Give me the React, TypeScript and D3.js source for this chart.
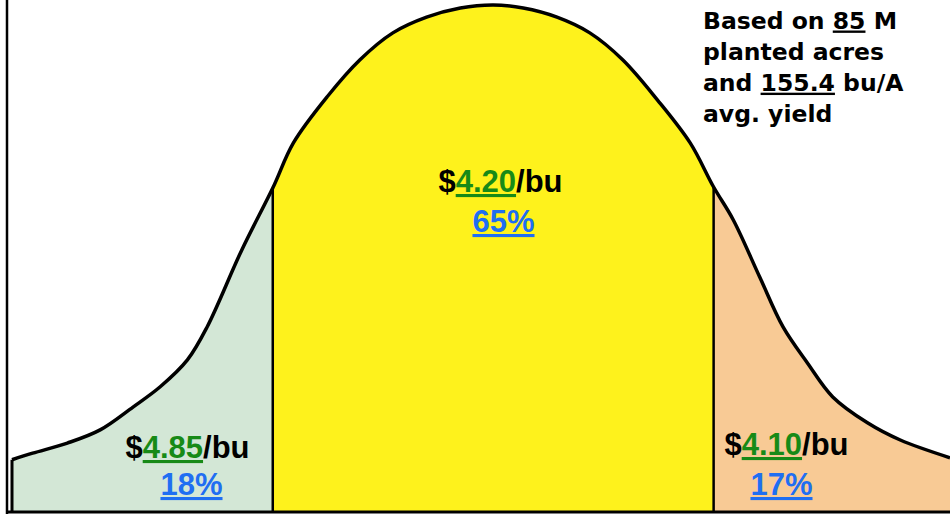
import React from 'react';
import * as d3 from 'd3';

// Bell curve: position along the axis (0-100) and relative height (0-100)
const curveT = [0, 2.2, 5.9, 9.4, 12.9, 15.8, 18.7, 20.8, 24.5, 27.8, 30.0, 33.6, 37.1, 40.6, 44.2, 47.8, 51.3, 54.5, 58.1, 61.6, 65.1, 68.8, 72.3, 74.8, 76.9, 79.7, 82.2, 84.8, 87.5, 91.2, 94.7, 100];
const curveDensity = [10.3, 11.6, 13.6, 16.2, 20.7, 24.7, 30.0, 36.5, 51.7, 63.9, 72.8, 81.9, 89.2, 94.5, 97.6, 99.4, 100, 99.4, 97.6, 94.5, 89.2, 81.3, 72.8, 64.1, 57.6, 46.4, 36.5, 29.4, 22.7, 17.6, 14.2, 10.7];

// Region boundaries (positions on the same axis)
const splitT = [27.8, 74.8];
const regionFills = ['#d3e7d6', '#fef21c', '#f8ca95'];
const prices = ['4.85', '4.20', '4.10'];
const shares = ['18%', '65%', '17%'];
const noteLines: { text: string; u?: boolean }[][] = [
  [{ text: 'Based on ' }, { text: '85', u: true }, { text: ' M' }],
  [{ text: 'planted acres' }],
  [{ text: 'and ' }, { text: '155.4', u: true }, { text: ' bu/A' }],
  [{ text: 'avg. yield' }],
];

// layout for labels (pixels)
const labelPos = [
  { px: 187.5, py: 458, sx: 191.5, sy: 495 },
  { px: 500.5, py: 192, sx: 503.5, sy: 232 },
  { px: 786.5, py: 455, sx: 781.5, sy: 495 },
];

const W = 950;
const H = 514;
const GREEN = '#178a17';
const BLUE = '#1f6ef2';

export default function App() {
  const x = d3.scaleLinear().domain([0, 100]).range([12, 950]);
  const y = d3.scaleLinear().domain([0, 100]).range([512, 5]);
  const pts: [number, number][] = curveT.map((t, i) => [t, curveDensity[i]]);

  const interp = d3.curveCatmullRom.alpha(0.5);
  const area = d3
    .area<[number, number]>()
    .x((d) => x(d[0]))
    .y0(y(0))
    .y1((d) => y(d[1]))
    .curve(interp);
  const line = d3
    .line<[number, number]>()
    .x((d) => x(d[0]))
    .y((d) => y(d[1]))
    .curve(interp);

  const bounds = [0, ...splitT, 100];
  const areaPath = area(pts) || '';
  const linePath = line(pts) || '';

  const densityAt = (t: number) => curveDensity[curveT.indexOf(t)];

  const font = "'Liberation Sans', Arial, sans-serif";

  return (
    <svg
      width={W}
      height={H}
      style={{ position: 'absolute', left: 0, top: 0, background: '#ffffff' }}
    >
      <defs>
        {regionFills.map((_, i) => (
          <clipPath id={`clip${i}`} key={i}>
            <rect
              x={x(bounds[i])}
              y={0}
              width={x(bounds[i + 1]) - x(bounds[i])}
              height={H}
            />
          </clipPath>
        ))}
      </defs>
      <rect x={0} y={0} width={W} height={H} fill="#ffffff" />
      {regionFills.map((c, i) => (
        <path key={i} d={areaPath} fill={c} clipPath={`url(#clip${i})`} />
      ))}
      {splitT.map((t, i) => (
        <line
          key={i}
          x1={x(t)}
          x2={x(t)}
          y1={y(densityAt(t))}
          y2={y(0)}
          stroke="#000"
          strokeWidth={2.5}
        />
      ))}
      <path d={linePath} fill="none" stroke="#000" strokeWidth={3.5} strokeLinejoin="round" />
      <line
        x1={x(0)}
        x2={x(0)}
        y1={y(curveDensity[0])}
        y2={y(0)}
        stroke="#000"
        strokeWidth={3}
      />
      <line x1={7} x2={7} y1={0} y2={514} stroke="#000" strokeWidth={2.5} />
      <line x1={6} x2={950} y1={512} y2={512} stroke="#000" strokeWidth={3} />

      {labelPos.map((p, i) => (
        <g key={i} fontFamily={font} fontWeight="bold" fontSize={31}>
          <text x={p.px} y={p.py} textAnchor="middle" fill="#000">
            $
            <tspan fill={GREEN} style={{ textDecoration: 'underline' }}>
              {prices[i]}
            </tspan>
            /bu
          </text>
          <text x={p.sx} y={p.sy} textAnchor="middle">
            <tspan fill={BLUE} style={{ textDecoration: 'underline' }}>
              {shares[i]}
            </tspan>
          </text>
        </g>
      ))}

      <g fontFamily="'DejaVu Sans', Verdana, sans-serif" fontWeight="bold" fontSize={23.5} fill="#000">
        {noteLines.map((ln, i) => (
          <text key={i} x={703} y={28.5 + 31.1 * i}>
            {ln.map((s, j) => (
              <tspan key={j} style={s.u ? { textDecoration: 'underline' } : undefined}>
                {s.text}
              </tspan>
            ))}
          </text>
        ))}
      </g>
    </svg>
  );
}
